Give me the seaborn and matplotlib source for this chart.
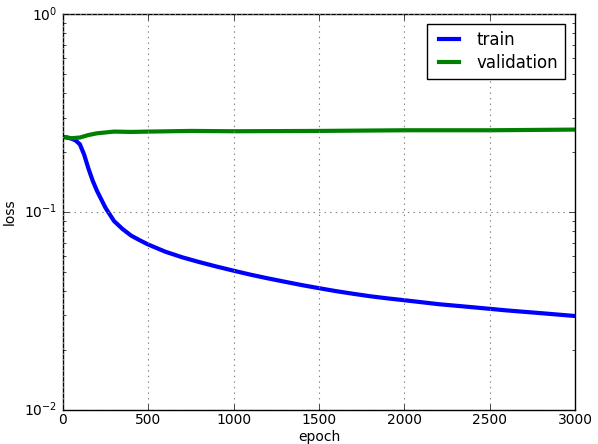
import numpy as np
import pandas as pd
import matplotlib
matplotlib.use("Agg")
import matplotlib.pyplot as plt
import seaborn as sns

# valores
train_epoch = [0, 25, 50, 75, 100, 125, 150, 175, 200, 250, 300, 350, 400, 450, 500,
               600, 700, 800, 900, 1000, 1100, 1200, 1300, 1400, 1500, 1600, 1700,
               1800, 1900, 2000, 2200, 2400, 2600, 2800, 3000]
train_loss = [0.240, 0.238, 0.235, 0.230, 0.220, 0.195, 0.166, 0.144, 0.128, 0.105,
              0.090, 0.082, 0.076, 0.072, 0.0685, 0.0630, 0.0590, 0.0558, 0.0530,
              0.0505, 0.0482, 0.0462, 0.0444, 0.0427, 0.0412, 0.0398, 0.0386,
              0.0375, 0.0366, 0.0358, 0.0342, 0.0330, 0.0318, 0.0308, 0.0298]

val_epoch = [0, 50, 100, 150, 200, 300, 400, 500, 750, 1000, 1500, 2000, 2500, 3000]
val_loss = [0.240, 0.236, 0.238, 0.245, 0.250, 0.255, 0.254, 0.255, 0.257, 0.256,
            0.257, 0.259, 0.259, 0.261]

df = pd.concat([
    pd.DataFrame({"epoch": train_epoch, "loss": train_loss, "set": "train"}),
    pd.DataFrame({"epoch": val_epoch, "loss": val_loss, "set": "validation"}),
])

plt.style.use("classic")
plt.rcParams["font.family"] = ["DejaVu Sans"]
plt.rcParams["font.size"] = 10

fig = plt.figure(figsize=(5.98, 4.44), dpi=100, facecolor="white")
ax = fig.add_axes([0.105, 0.077, 0.857, 0.891])

sns.lineplot(data=df, x="epoch", y="loss", hue="set",
             palette={"train": "blue", "validation": "green"},
             linewidth=3, ax=ax)

ax.set_yscale("log")
ax.set_xlim(0, 3000)
ax.set_ylim(0.01, 1)
ax.grid(True, which="major", linestyle=":", color="gray", linewidth=0.8)
ax.set_xlabel("epoch", fontsize=10)
ax.set_ylabel("loss", fontsize=10)
ax.yaxis.set_label_coords(-0.09, 0.5)
ax.xaxis.set_label_coords(0.5, -0.052)
ax.tick_params(labelsize=10)
ax.tick_params(axis="x", pad=2)

leg = ax.legend(loc="upper right", fontsize=12, fancybox=False, title=None,
                handlelength=1.8, labelspacing=0.3, borderaxespad=0.6)
leg.get_frame().set_edgecolor("black")

fig.savefig("out.png", dpi=100, facecolor="white")
